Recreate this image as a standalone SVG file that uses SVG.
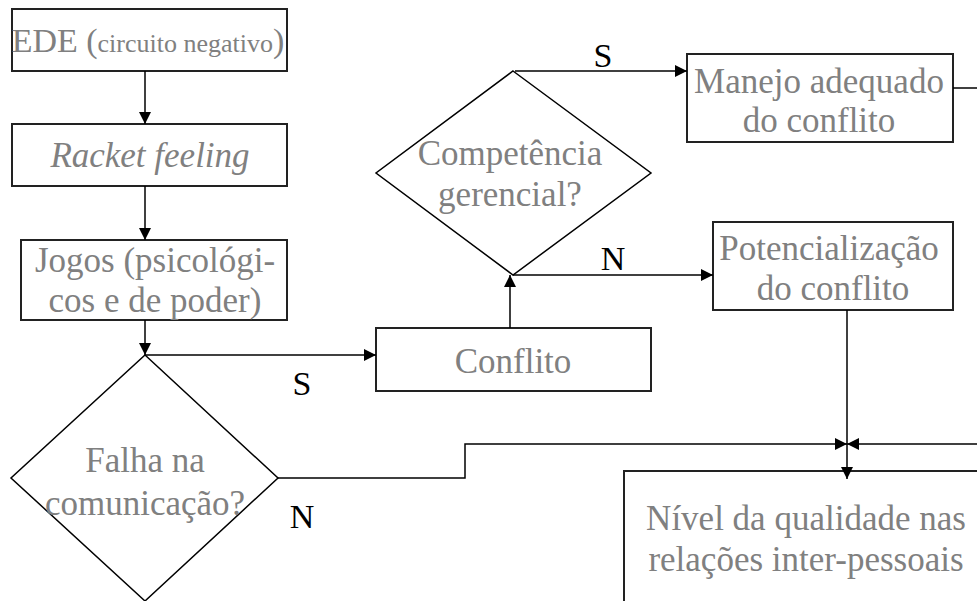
<svg xmlns="http://www.w3.org/2000/svg" width="977" height="601" viewBox="0 0 977 601">
<style>
.box{fill:#fff;stroke:#222;stroke-width:2}
.dia{fill:#fff;stroke:#000;stroke-width:1.5}
.t{font-family:"Liberation Serif","Times New Roman",serif;font-size:35px;fill:#808080;text-anchor:middle}
.big{font-size:34px}
.small{font-size:26px}
.lbl{font-family:"Liberation Serif","Times New Roman",serif;font-size:34px;fill:#000;text-anchor:middle}
.c{fill:none;stroke:#000;stroke-width:1.5}
</style>
<defs>
<marker id="ah" markerWidth="12" markerHeight="12" refX="12" refY="6" orient="auto" markerUnits="userSpaceOnUse">
<path d="M0,0 L12,6 L0,12 Z" fill="#000"/>
</marker>
</defs>
<rect width="977" height="601" fill="#fff"/>
<g id="ede">
<rect class="box" x="12" y="9" width="275" height="62"/>
<text class="t big" x="148" y="52">EDE (<tspan class="small">circuito negativo</tspan>)</text>
</g>
<g id="racket">
<rect class="box" x="12" y="124" width="275" height="62"/>
<text class="t" x="150" y="167" font-style="italic">Racket feeling</text>
</g>
<g id="jogos">
<rect class="box" x="21" y="240" width="266" height="80"/>
<text class="t" x="155" y="272">Jogos (psicológi-</text>
<text class="t" x="155" y="312">cos e de poder)</text>
</g>
<g id="falha">
<polygon class="dia" points="145,355 278,478 145,601 11,478"/>
<text class="t" x="145" y="472">Falha na</text>
<text class="t" x="145" y="515">comunicação?</text>
</g>
<g id="conflito">
<rect class="box" x="376" y="328" width="275" height="63"/>
<text class="t" x="513" y="373">Conflito</text>
</g>
<g id="competencia">
<polygon class="dia" points="513,71 651,173 513,275 376,173"/>
<text class="t" x="510" y="165">Competência</text>
<text class="t" x="510" y="206">gerencial?</text>
</g>
<g id="manejo">
<rect class="box" x="687" y="54" width="266" height="88"/>
<text class="t" x="819" y="93">Manejo adequado</text>
<text class="t" x="819" y="132">do conflito</text>
</g>
<g id="potencializacao">
<rect class="box" x="713" y="222" width="240" height="88"/>
<text class="t" x="829" y="260">Potencialização</text>
<text class="t" x="833" y="300">do conflito</text>
</g>
<g id="nivel">
<rect class="box" x="624" y="471" width="400" height="200"/>
<text class="t" x="806" y="530">Nível da qualidade nas</text>
<text class="t" x="806" y="571">relações inter-pessoais</text>
</g>
<g id="connectors">
<path class="c" d="M145,71 V124" marker-end="url(#ah)"/>
<path class="c" d="M145,186 V240" marker-end="url(#ah)"/>
<path class="c" d="M145,320 V355" marker-end="url(#ah)"/>
<path class="c" d="M145,355 H376" marker-end="url(#ah)"/>
<path class="c" d="M510,328 V275" marker-end="url(#ah)"/>
<path class="c" d="M515,71 H687" marker-end="url(#ah)"/>
<path class="c" d="M513,275 H713" marker-end="url(#ah)"/>
<path class="c" d="M953,88 H977"/>
<path class="c" d="M847,310 V479" marker-end="url(#ah)"/>
<path class="c" d="M278,478 H465 V444 H847" marker-end="url(#ah)"/>
<path class="c" d="M977,444 H847" marker-end="url(#ah)"/>
</g>
<g id="labels">
<text class="lbl" x="603" y="67">S</text>
<text class="lbl" x="613" y="270">N</text>
<text class="lbl" x="302" y="395">S</text>
<text class="lbl" x="302" y="528">N</text>
</g>
</svg>
